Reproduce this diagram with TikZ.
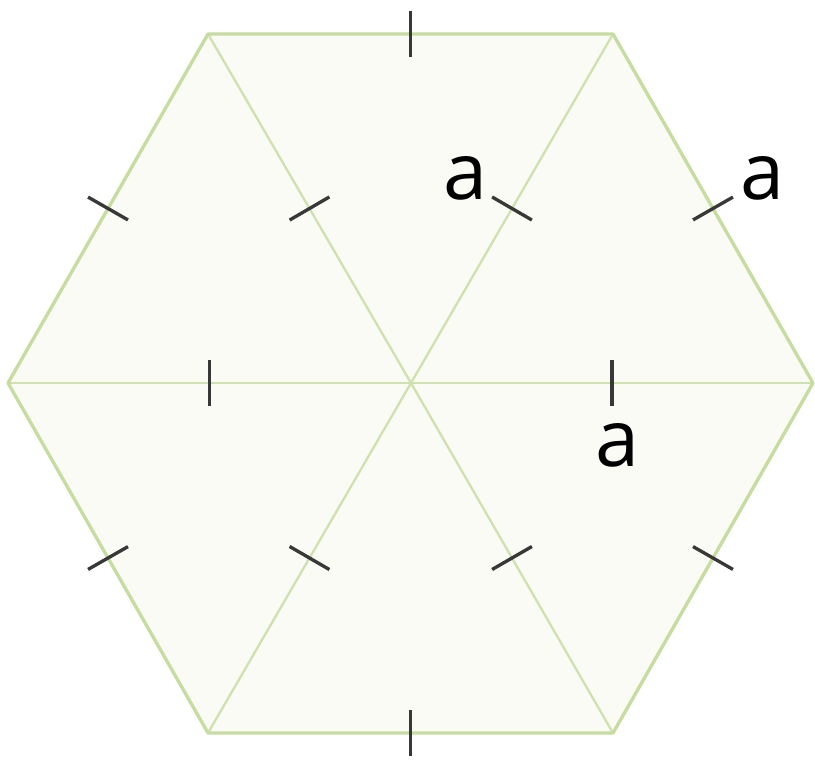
\documentclass[tikz,border=0pt]{standalone}
\usepackage{fontspec}
\setmainfont{Open Sans}
\usetikzlibrary{calc}
\definecolor{HexFill}{HTML}{F9FBF4}
\definecolor{HexEdge}{HTML}{C6DCA0}
\definecolor{TickInk}{HTML}{383838}
\tikzset{
  rim/.style={HexEdge,line width=1.9pt,line join=round},
  spoke/.style={HexEdge!85,line width=1.3pt},
  tickmark/.style={TickInk,line width=1.9pt},
  sidelabel/.style={inner sep=0pt,font=\fontsize{45}{50}\selectfont}
}

\begin{document}
\begin{tikzpicture}[x=0.02cm,y=-0.02cm]
\useasboundingbox (0,0) rectangle (815,761);
% corners of the hexagon
\coordinate (O) at (411,383);
\coordinate (P1) at (813,383);
\coordinate (P2) at (613,34);
\coordinate (P3) at (208,34);
\coordinate (P4) at (8,383);
\coordinate (P5) at (208,733);
\coordinate (P6) at (613,733);
\fill[HexFill] (P1) -- (P2) -- (P3) -- (P4) -- (P5) -- (P6) -- cycle;
\foreach \i in {1,...,6}
  \draw[spoke] (O) -- (P\i);
\draw[rim] (P1) -- (P2) -- (P3) -- (P4) -- (P5) -- (P6) -- cycle;
% equal-length marks
\foreach \s/\t in {O/P1,O/P2,O/P3,O/P4,O/P5,O/P6,P1/P2,P2/P3,P3/P4,P4/P5,P5/P6,P6/P1}
  \draw[tickmark] ($(\s)!0.5!(\t)!0.46cm!90:(\t)$) -- ($(\s)!0.5!(\t)!0.46cm!-90:(\t)$);
\node[sidelabel] (la) at (465,178) {a};
\node[sidelabel] (lb) at (762,178) {a};
\node[sidelabel] (lc) at (617,445) {a};
\end{tikzpicture}
\end{document}
